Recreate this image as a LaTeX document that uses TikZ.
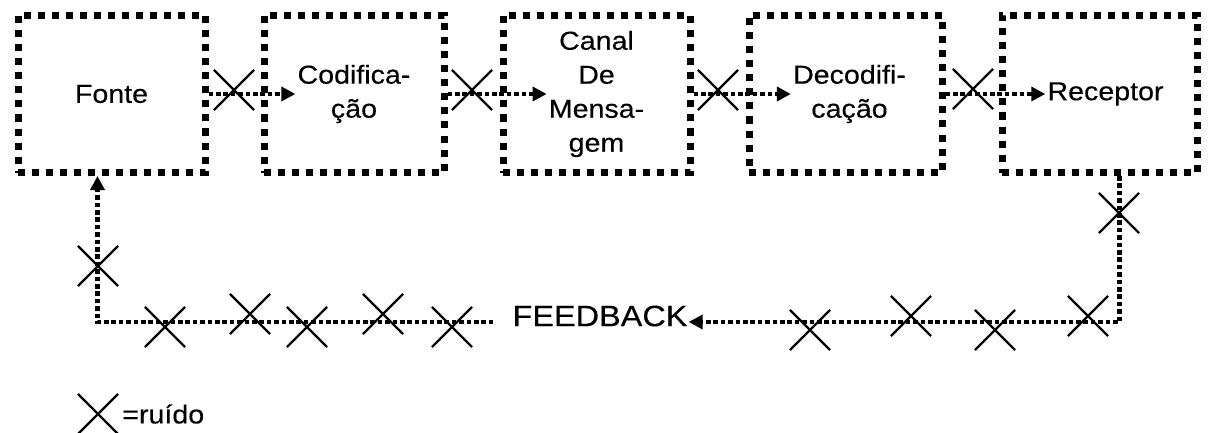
\documentclass[tikz,border=0pt]{standalone}
\usepackage{fontspec}
\setmainfont{Liberation Sans}[FakeStretch=1.1, FakeBold=0.3]
\usepackage{tikz}
\usetikzlibrary{positioning, arrows.meta, shapes.misc}

\begin{document}
\begin{tikzpicture}[
  x=1pt, y=1pt,
  node distance=53pt,
  >={Triangle[length=14pt, width=14pt]},
  every node/.style={font=\fontsize{26}{34}\selectfont}
]
\tikzset{
  block/.style  ={draw=black, line width=7pt, dash pattern=on 7pt off 7pt,
                  minimum height=157pt, inner sep=0pt},
  txt/.style    ={align=center, inner sep=2pt},
  flow/.style   ={->, line width=4.2pt, dash pattern=on 4.6pt off 2.8pt},
  noise/.style  ={draw=black, cross out, line width=2.2pt,
                  minimum size=38pt, inner sep=0pt}
}
\useasboundingbox (0,0) rectangle (1209,-433);

%% ----- Chain of blocks -----
\node[block, minimum width=187pt] (fonteBox) at (111.5,-94) {};
\node[block, minimum width=180pt, right=52pt of fonteBox] (codifBox) {};
\node[block, minimum width=187pt, right=52pt of codifBox] (canalBox) {};
\node[block, minimum width=193pt, right=52pt of canalBox] (decodBox) {};
\node[block, minimum width=195pt, right=of decodBox] (recepBox) {};

\node[txt] (fonte) at (fonteBox) {Fonte};
\node[txt] (codif) at (codifBox) {Codifica-\\ção};
\node[txt] (canal) at (canalBox) {Canal\\De\\Mensa-\\gem};
\node[txt, xshift=4pt] (decod) at (decodBox) {Decodifi-\\cação};
\node[txt, xshift=6pt] (recep) at (recepBox) {Receptor};

\draw[flow] (fonteBox.east) -- (codif.west);
\draw[flow] (codifBox.east) -- (canal.west);
\draw[flow] (canalBox.east) -- (decod.west);
\draw[flow] (decodBox.east) -- (recep.west);

%% ----- Feedback loop -----
\node[font=\fontsize{29.5}{34}\selectfont, inner sep=1pt] (fb)
  at (600,-316) {FEEDBACK};
\draw[flow] ([xshift=20pt]recepBox.south) |- ([yshift=-6pt]fb.east);
\draw[flow, shorten <=18pt] ([yshift=-6pt]fb.west)
  -| ([xshift=-14pt]fonteBox.south);

%% ----- Noise marks -----
\foreach \x/\y [count=\i] in {234/90, 472/90, 718/90, 973/89,
    1119/213, 1088/316, 995/330, 911/316, 810/330,
    452/327, 383/314, 307/327, 250/314, 165/327, 98/266}
  \node[noise] (ruido\i) at (\x,-\y) {};

%% ----- Key -----
\node[noise] (key) at (98,-414) {};
\node[txt, right=2pt of key] (keytext) {=ruído};

\end{tikzpicture}
\end{document}
